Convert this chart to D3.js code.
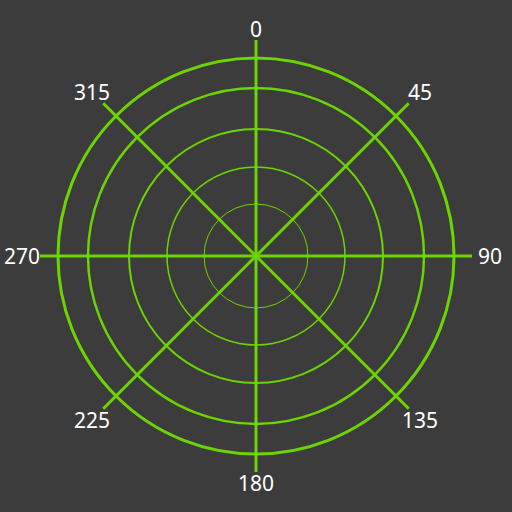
<!DOCTYPE html>
<html>
<head>
<meta charset="utf-8">
<script src="https://cdn.jsdelivr.net/npm/d3@7"></script>
<style>
  html, body { margin: 0; padding: 0; background: #3c3c3c; }
  svg { display: block; }
</style>
</head>
<body>
<svg id="chart" width="512" height="512"></svg>
<script>
// 同心円の半径（外側の縁を216とした値）
const rings = [52, 89, 127, 168, 198];
const ringWidths = [1, 1.5, 2, 2.5, 3];
// 放射線の角度と目盛ラベル
const angles = [0, 45, 90, 135, 180, 225, 270, 315];
const angleLabels = ["0", "45", "90", "135", "180", "225", "270", "315"];
const outerEdge = 216;

const width = 512;
const height = 512;
const cx = 256;
const cy = 256;
const green = "#6cd400";

const svg = d3.select("#chart");

svg.append("rect")
  .attr("width", width)
  .attr("height", height)
  .attr("fill", "#3c3c3c");

const r = d3.scaleLinear().domain([0, outerEdge]).range([0, 216]);
const theta = d3.scaleLinear().domain([0, 360]).range([0, 2 * Math.PI]);

const g = svg.append("g").attr("transform", `translate(${cx},${cy})`);

// 同心円を描く
g.selectAll("circle")
  .data(rings)
  .join("circle")
  .attr("r", d => r(d))
  .attr("fill", "none")
  .attr("stroke", green)
  .attr("stroke-width", (d, i) => ringWidths[i]);

// 放射線を描く
g.selectAll("line")
  .data(angles)
  .join("line")
  .attr("x1", 0)
  .attr("y1", 0)
  .attr("x2", d => r(outerEdge) * Math.sin(theta(d)))
  .attr("y2", d => -r(outerEdge) * Math.cos(theta(d)))
  .attr("stroke", green)
  .attr("stroke-width", 3);

// 角度ラベルを線の先に置く
g.selectAll("text")
  .data(angles)
  .join("text")
  .attr("x", d => (r(outerEdge) + 11 + 7 * Math.abs(Math.sin(theta(d)))) * Math.sin(theta(d)))
  .attr("y", d => -(r(outerEdge) + 11 + 7 * Math.abs(Math.sin(theta(d)))) * Math.cos(theta(d)))
  .attr("text-anchor", "middle")
  .attr("dominant-baseline", "central")
  .attr("fill", "#ffffff")
  .style("font-family", "'Noto Sans', sans-serif")
  .style("font-size", "21px")
  .text((d, i) => angleLabels[i]);
</script>
</body>
</html>
